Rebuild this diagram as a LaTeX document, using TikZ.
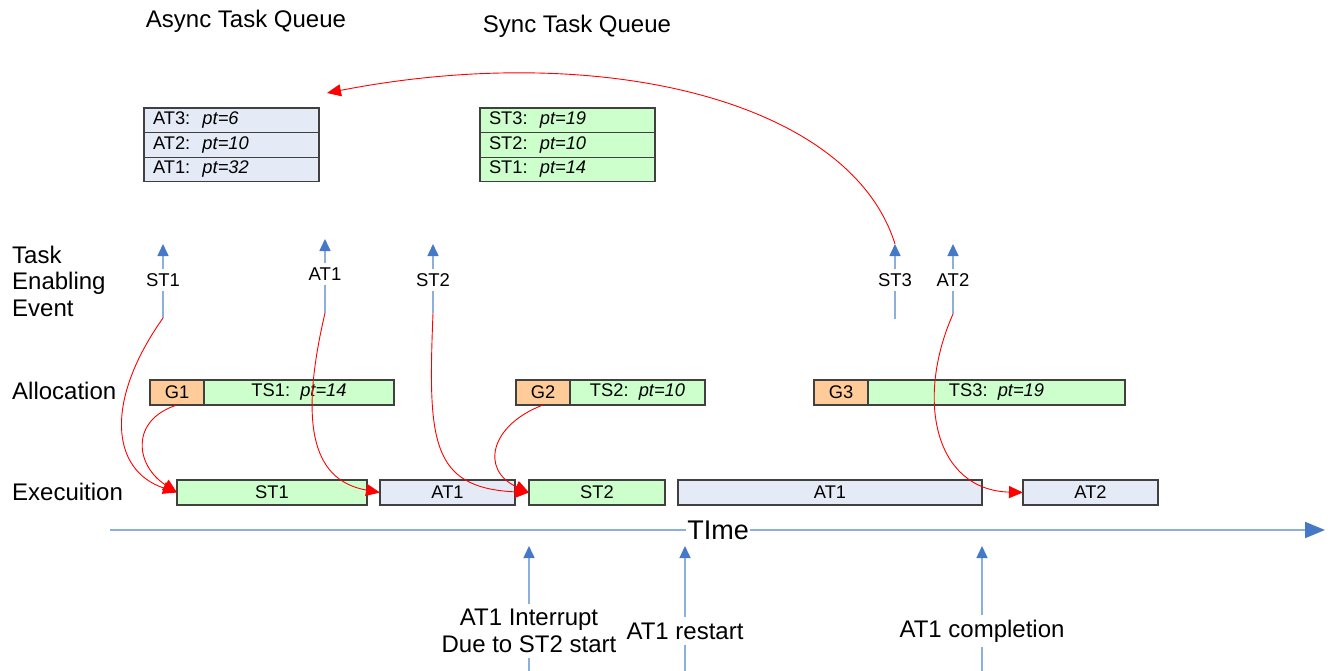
\documentclass[tikz,border=0pt]{standalone}
\usepackage{fontspec}
\setmainfont{Liberation Sans}
\usetikzlibrary{positioning,arrows.meta}
\definecolor{asyncfill}{RGB}{228,234,246}
\definecolor{syncfill}{RGB}{204,255,204}
\definecolor{grantfill}{RGB}{255,204,153}
\definecolor{boxgray}{RGB}{64,64,64}
\definecolor{lineblue}{RGB}{140,175,220}
\definecolor{tipblue}{RGB}{70,120,200}
\tikzset{
  box/.style={draw=boxgray, line width=1.2pt, outer sep=0pt, inner sep=0pt,
    minimum height=24.6pt, font=\fontsize{18.3}{21}\selectfont}
  }

\begin{document}
\begin{tikzpicture}[x=1pt,y=-1pt,
    asyncrow/.style={%
        box, fill=asyncfill, anchor=north west,
        text width=157pt, inner xsep=9pt, align=left},
    syncrow/.style={asyncrow, fill=syncfill},
    grant/.style={%
        box, fill=grantfill, minimum width=54pt, minimum height=25pt,
        anchor=north west},
    slot/.style={box, fill=syncfill, minimum height=25pt},
    run/.style={box, minimum height=25pt, anchor=north west},
    heading/.style={font=\fontsize{24}{26.5}\selectfont, align=left, inner sep=0pt},
    event/.style={font=\fontsize{18.5}{22}\selectfont, inner sep=4pt},
    milestone/.style={font=\fontsize{24}{27}\selectfont, align=center, inner sep=5pt},
    stem/.style={draw=lineblue, line width=1.5pt},
    trigger/.style={stem, -{Triangle[color=tipblue,length=12pt,width=11pt]}},
    hand/.style={draw=red, line width=0.9pt, -{Triangle[length=14pt,width=12pt]}},
]
    \useasboundingbox (0,0) rectangle (1330,671);
    % Queue titles
    \node[heading] (asynctitle) at (246,21) {Async Task Queue};
    \node[heading] (synctitle) at (577,26) {Sync Task Queue};
    % Async task queue
    \node[asyncrow] (aq3) at (144,108) {AT3:\ \ \textit{pt=6}};
    \node[asyncrow, below=0pt of aq3] (aq2) {AT2:\ \ \textit{pt=10}};
    \node[asyncrow, below=0pt of aq2] (aq1) {AT1:\ \ \textit{pt=32}};
    \coordinate (asyncin) at (327,93);
    % Sync task queue
    \node[syncrow] (sq3) at (480,108) {ST3:\ \ \textit{pt=19}};
    \node[syncrow, below=0pt of sq3] (sq2) {ST2:\ \ \textit{pt=10}};
    \node[syncrow, below=0pt of sq2] (sq1) {ST1:\ \ \textit{pt=14}};
    % Row labels
    \node[heading, anchor=west] (enabling) at (12,281) {Task\\Enabling\\Event};
    \node[heading, anchor=west] (allocation) at (12,391) {Allocation};
    \node[heading, anchor=west] (execution) at (12,492) {Execuition};
    % Task enabling events
    \node[event] (ev1) at (163,280) {ST1};
    \coordinate (ev1top) at (163,244);
    \coordinate (ev1bot) at (163,318);
    \draw[trigger] (ev1) -- (ev1top);
    \draw[stem] (ev1) -- (ev1bot);
    \node[event] (ev2) at (325,274) {AT1};
    \coordinate (ev2top) at (325,239);
    \coordinate (ev2bot) at (325,313);
    \draw[trigger] (ev2) -- (ev2top);
    \draw[stem] (ev2) -- (ev2bot);
    \node[event] (ev3) at (433,280) {ST2};
    \coordinate (ev3top) at (433,244);
    \coordinate (ev3bot) at (433,313);
    \draw[trigger] (ev3) -- (ev3top);
    \draw[stem] (ev3) -- (ev3bot);
    \node[event] (ev4) at (895,280) {ST3};
    \coordinate (ev4top) at (895,244);
    \coordinate (ev4bot) at (895,319);
    \draw[trigger] (ev4) -- (ev4top);
    \draw[stem] (ev4) -- (ev4bot);
    \node[event] (ev5) at (953,280) {AT2};
    \coordinate (ev5top) at (953,244);
    \coordinate (ev5bot) at (953,314);
    \draw[trigger] (ev5) -- (ev5top);
    \draw[stem] (ev5) -- (ev5bot);
    % Allocation
    \node[grant] (g1) at (150,380) {G1};
    \node[slot, minimum width=190pt, right=0pt of g1] (ts1) {TS1:\ \ \textit{pt=14}};
    \node[grant] (g2) at (516,380) {G2};
    \node[slot, minimum width=135pt, right=0pt of g2] (ts2) {TS2:\ \ \textit{pt=10}};
    \node[grant] (g3) at (814,380) {G3};
    \node[slot, minimum width=257pt, right=0pt of g3] (ts3) {TS3:\ \ \textit{pt=19}};
    % Execution
    \node[run, fill=syncfill, minimum width=190pt] (x1) at (177,480) {ST1};
    \node[run, fill=asyncfill, minimum width=135pt] (x2) at (380,480) {AT1};
    \node[run, fill=syncfill, minimum width=136pt] (x3) at (529,480) {ST2};
    \node[run, fill=asyncfill, minimum width=304pt] (x4) at (678,480) {AT1};
    \node[run, fill=asyncfill, minimum width=135pt] (x5) at (1023,480) {AT2};
    % Hand-over curves
    \draw[hand] (ev1bot) .. controls (105,400) and (110,470) .. (x1.west);
    \draw[hand] (g1.south) .. controls (130,420) and (135,465) .. (x1.west);
    \draw[hand] (ev2bot) .. controls (300,420) and (310,480) .. (x2.west);
    \draw[hand] (ev3bot) .. controls (428,440) and (430,488) .. (x3.west);
    \draw[hand] (g2.south) .. controls (490,425) and (480,470) .. (x3.west);
    \draw[hand] (ev4top) .. controls (850,100) and (600,40) .. (asyncin);
    \draw[hand] (ev5bot) .. controls (915,400) and (935,490) .. (x5.west);
    % Time axis
    \node[font=\fontsize{27}{30}\selectfont, inner sep=1pt] (time) at (718,530) {TIme};
    \coordinate (tstart) at (110,530);
    \coordinate (tend) at (1325,530);
    \draw[stem, line width=2pt] (tstart) -- (time);
    \draw[stem, line width=2pt, -{Triangle[color=tipblue,length=20pt,width=16pt]}] (time) -- (tend);
    % Milestones
    \node[milestone] (m1) at (529,631) {AT1 Interrupt\\Due to ST2 start};
    \coordinate (m1top) at (529,546);
    \coordinate (m1bot) at (529,671);
    \draw[trigger] (m1) -- (m1top);
    \draw[stem] (m1) -- (m1bot);
    \node[milestone] (m2) at (685,631) {AT1 restart};
    \coordinate (m2top) at (685,546);
    \coordinate (m2bot) at (685,671);
    \draw[trigger] (m2) -- (m2top);
    \draw[stem] (m2) -- (m2bot);
    \node[milestone] (m3) at (982,631) {AT1 completion};
    \coordinate (m3top) at (982,546);
    \coordinate (m3bot) at (982,671);
    \draw[trigger] (m3) -- (m3top);
    \draw[stem] (m3) -- (m3bot);
\end{tikzpicture}
\end{document}
